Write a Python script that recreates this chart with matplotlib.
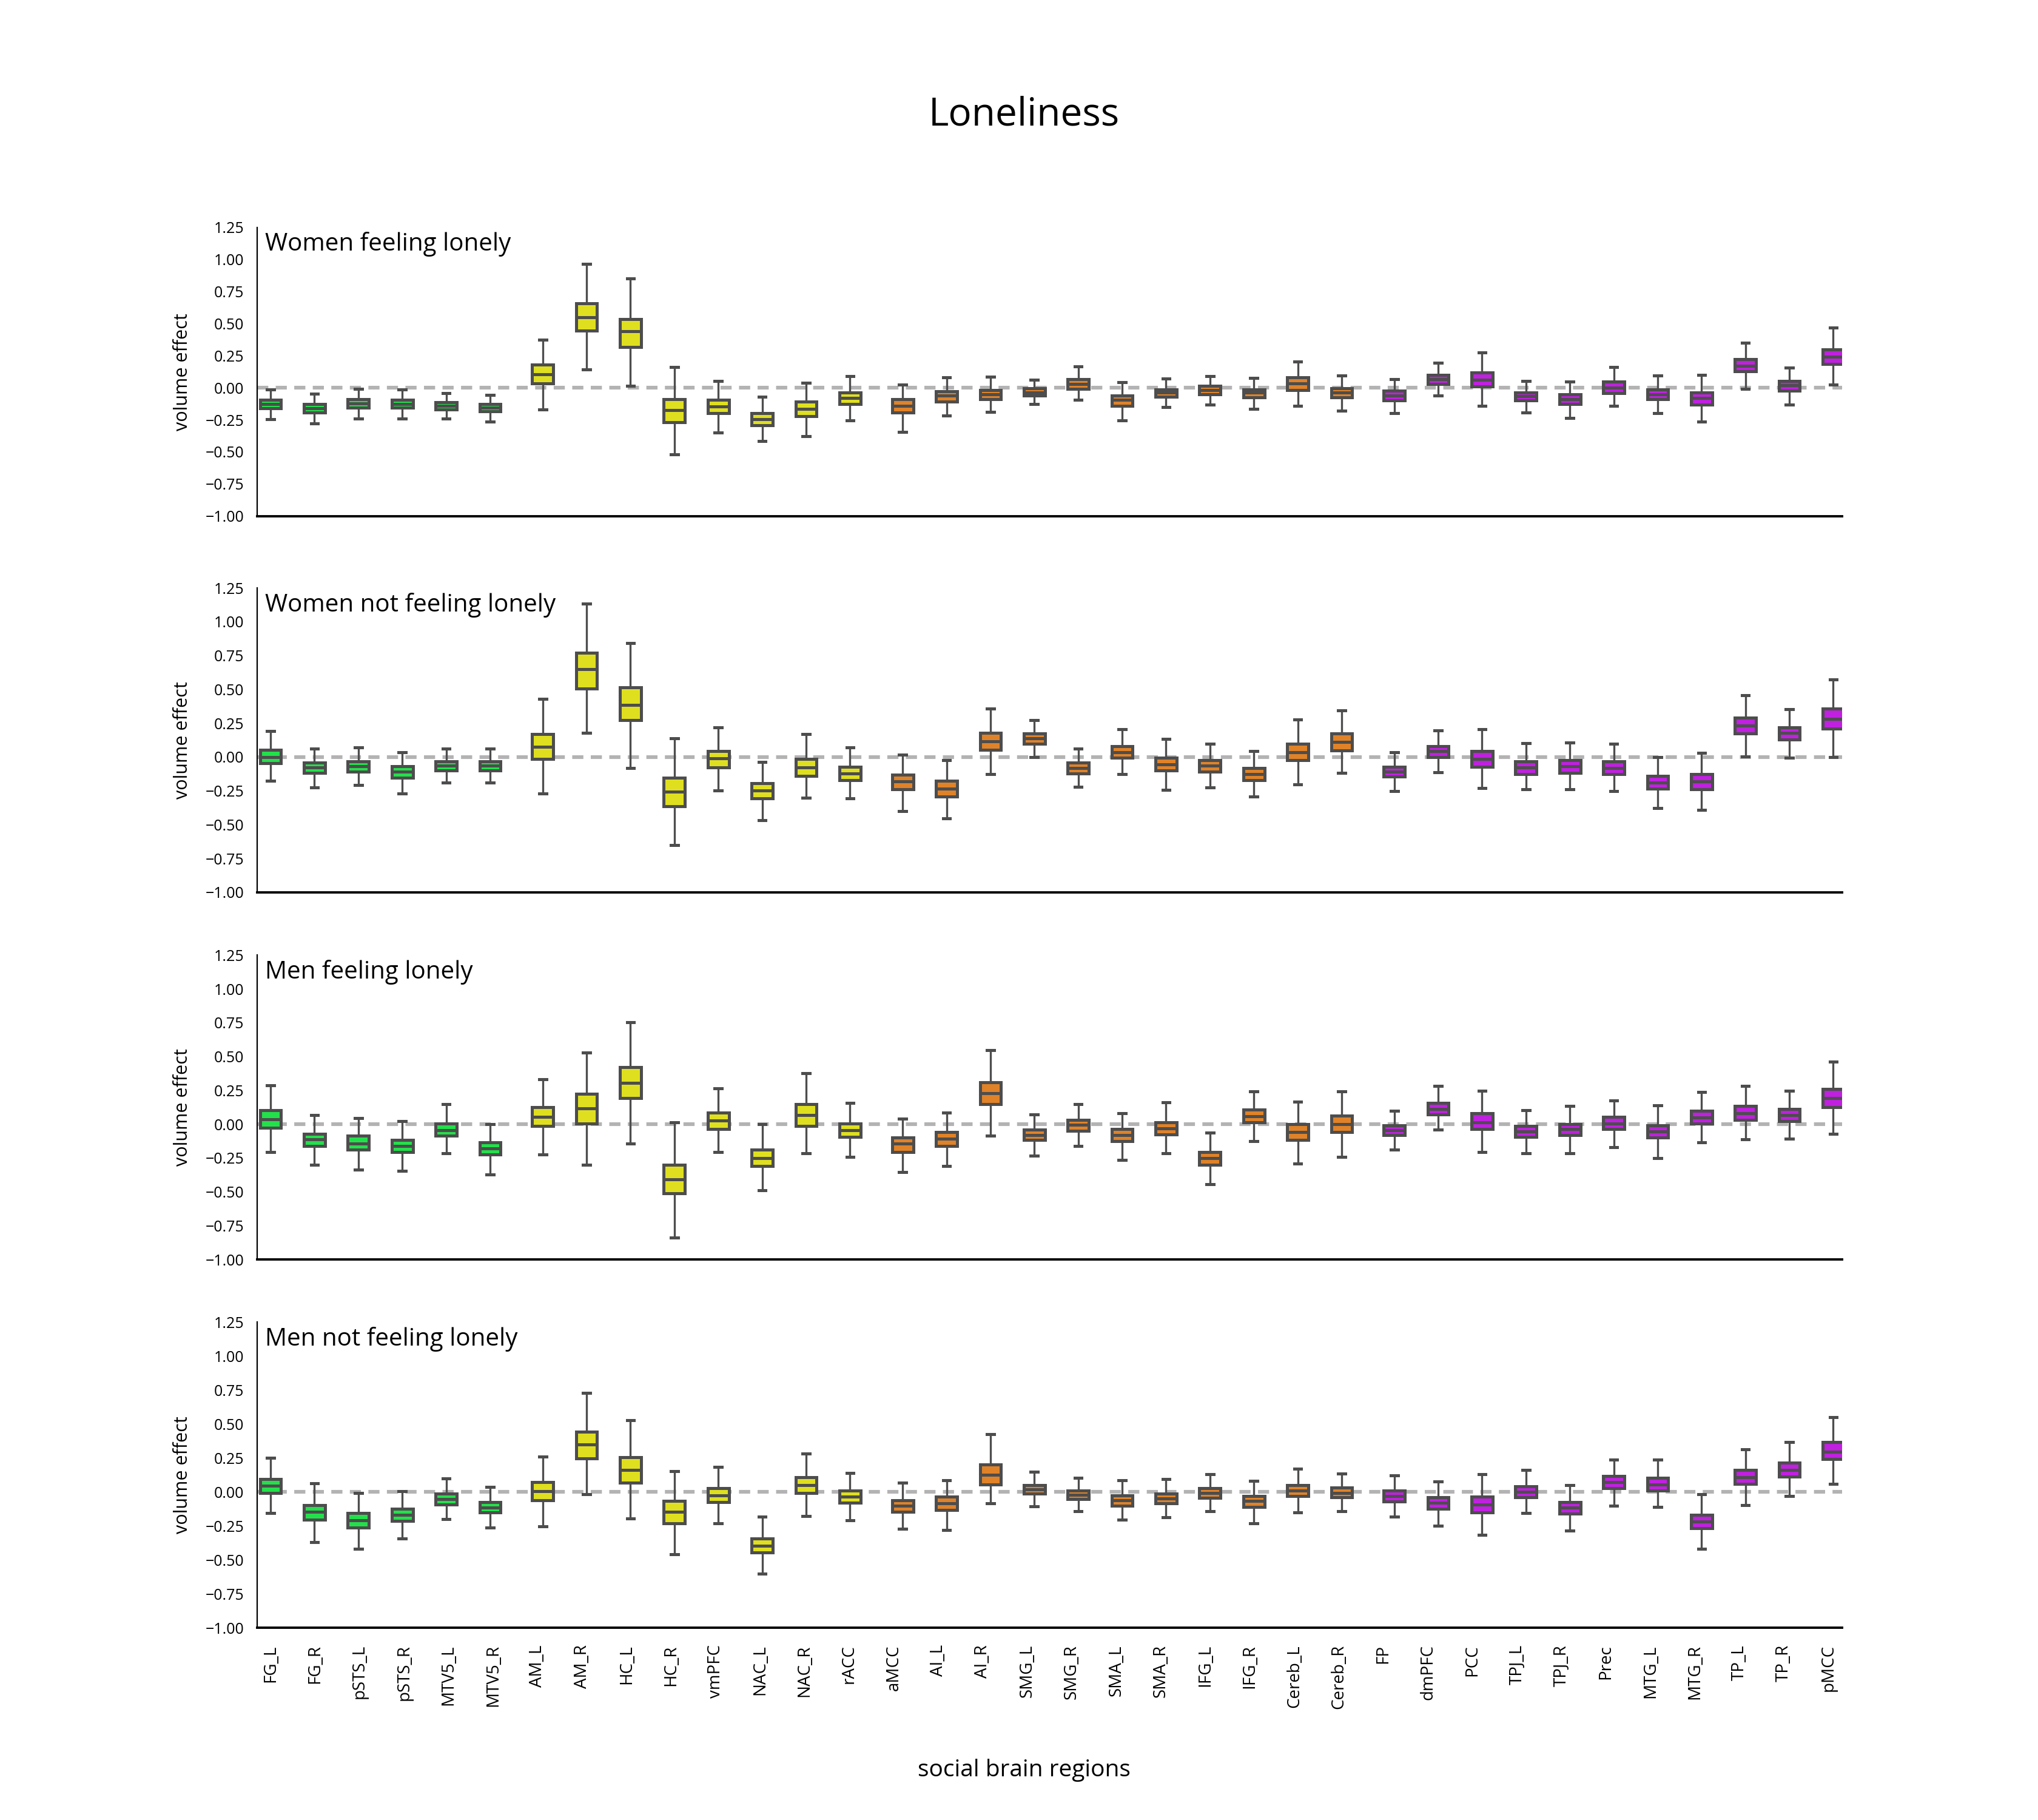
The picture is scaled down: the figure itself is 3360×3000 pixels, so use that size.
import matplotlib
matplotlib.use("Agg")
import matplotlib.pyplot as plt

plt.rcParams['font.family'] = ['Open Sans', 'DejaVu Sans']

regions = ["FG_L","FG_R","pSTS_L","pSTS_R","MTV5_L","MTV5_R","AM_L","AM_R","HC_L","HC_R",
           "vmPFC","NAC_L","NAC_R","rACC","aMCC","AI_L","AI_R","SMG_L","SMG_R","SMA_L","SMA_R",
           "IFG_L","IFG_R","Cereb_L","Cereb_R","FP","dmPFC","PCC","TPJ_L","TPJ_R","Prec",
           "MTG_L","MTG_R","TP_L","TP_R","pMCC"]
groups = [0]*6 + [1]*8 + [2]*11 + [3]*11
group_colors = ["#22e04a", "#dfdf1f", "#e08228", "#c020e0"]
group_offsets = [-0.3, -0.1, 0.1, 0.3]

panel_titles = ["Women feeling lonely", "Women not feeling lonely",
                "Men feeling lonely", "Men not feeling lonely"]

# each row: whislo, q1, median, q3, whishi
women_lonely = [
    [-0.244,-0.162,-0.128,-0.094,-0.013],[-0.28,-0.194,-0.159,-0.129,-0.046],
    [-0.24,-0.157,-0.123,-0.091,-0.008],[-0.24,-0.157,-0.126,-0.094,-0.013],
    [-0.24,-0.17,-0.139,-0.115,-0.041],[-0.263,-0.184,-0.154,-0.129,-0.055],
    [-0.168,0.035,0.106,0.178,0.375],[0.143,0.444,0.551,0.657,0.965],
    [0.016,0.317,0.438,0.537,0.852],[-0.518,-0.269,-0.173,-0.09,0.162],
    [-0.348,-0.2,-0.146,-0.094,0.054],[-0.414,-0.294,-0.244,-0.197,-0.069],
    [-0.376,-0.222,-0.164,-0.11,0.039],[-0.254,-0.128,-0.082,-0.039,0.091],
    [-0.343,-0.195,-0.139,-0.087,0.025],[-0.216,-0.11,-0.063,-0.03,0.079],
    [-0.187,-0.091,-0.049,-0.016,0.087],[-0.126,-0.063,-0.039,-0.006,0.063],
    [-0.093,-0.011,0.027,0.065,0.167],[-0.254,-0.142,-0.094,-0.063,0.044],
    [-0.15,-0.072,-0.039,-0.013,0.072],[-0.131,-0.052,-0.02,0.013,0.091],
    [-0.164,-0.077,-0.039,-0.013,0.077],[-0.14,-0.016,0.035,0.079,0.205],
    [-0.178,-0.076,-0.039,-0.003,0.096],[-0.197,-0.099,-0.06,-0.025,0.068],
    [-0.06,0.031,0.068,0.102,0.195],[-0.14,0.009,0.063,0.121,0.276],
    [-0.192,-0.099,-0.065,-0.035,0.054],[-0.235,-0.128,-0.088,-0.049,0.049],
    [-0.14,-0.043,0.0,0.046,0.162],[-0.197,-0.09,-0.05,-0.013,0.096],
    [-0.263,-0.132,-0.079,-0.035,0.101],[-0.008,0.128,0.173,0.224,0.351],
    [-0.131,-0.024,0.02,0.054,0.157],[0.025,0.186,0.243,0.299,0.469]]

women_not_lonely = [
    [-0.176,-0.045,0.0,0.055,0.191],[-0.226,-0.117,-0.078,-0.04,0.061],
    [-0.208,-0.106,-0.067,-0.03,0.07],[-0.27,-0.151,-0.108,-0.066,0.034],
    [-0.19,-0.097,-0.063,-0.03,0.061],[-0.19,-0.097,-0.063,-0.03,0.061],
    [-0.27,-0.012,0.075,0.17,0.429],[0.178,0.508,0.65,0.773,1.133],
    [-0.082,0.272,0.386,0.516,0.842],[-0.652,-0.362,-0.257,-0.155,0.138],
    [-0.248,-0.075,-0.01,0.045,0.218],[-0.468,-0.306,-0.248,-0.193,-0.037],
    [-0.302,-0.138,-0.078,-0.015,0.169],[-0.306,-0.169,-0.123,-0.072,0.07],
    [-0.399,-0.239,-0.181,-0.132,0.018],[-0.454,-0.29,-0.235,-0.176,-0.024],
    [-0.127,0.055,0.115,0.179,0.357],[0.0,0.1,0.138,0.173,0.272],
    [-0.221,-0.12,-0.082,-0.04,0.061],[-0.127,-0.007,0.034,0.079,0.205],
    [-0.244,-0.1,-0.055,-0.007,0.133],[-0.226,-0.106,-0.063,-0.024,0.097],
    [-0.293,-0.173,-0.127,-0.082,0.043],[-0.203,-0.024,0.037,0.097,0.277],
    [-0.118,0.051,0.111,0.173,0.344],[-0.253,-0.146,-0.108,-0.07,0.034],
    [-0.114,0.0,0.043,0.082,0.196],[-0.23,-0.07,-0.015,0.043,0.205],
    [-0.239,-0.124,-0.078,-0.033,0.102],[-0.239,-0.115,-0.069,-0.024,0.106],
    [-0.253,-0.124,-0.082,-0.033,0.097],[-0.378,-0.235,-0.19,-0.141,0.0],
    [-0.392,-0.239,-0.181,-0.127,0.03],[0.003,0.173,0.232,0.29,0.456],
    [-0.006,0.129,0.178,0.218,0.353],[0.0,0.209,0.281,0.357,0.573]]

men_lonely = [
    [-0.204,-0.028,0.034,0.102,0.286],[-0.302,-0.163,-0.114,-0.07,0.066],
    [-0.334,-0.186,-0.141,-0.087,0.043],[-0.343,-0.208,-0.159,-0.118,0.021],
    [-0.217,-0.087,-0.046,0.007,0.147],[-0.37,-0.226,-0.177,-0.132,-0.001],
    [-0.226,-0.015,0.052,0.124,0.331],[-0.298,0.007,0.115,0.223,0.528],
    [-0.141,0.192,0.304,0.421,0.753],[-0.837,-0.513,-0.406,-0.298,0.012],
    [-0.204,-0.037,0.025,0.084,0.263],[-0.487,-0.307,-0.249,-0.186,-0.001],
    [-0.213,-0.015,0.066,0.147,0.376],[-0.24,-0.096,-0.046,0.007,0.156],
    [-0.356,-0.204,-0.145,-0.1,0.039],[-0.311,-0.159,-0.109,-0.06,0.084],
    [-0.087,0.147,0.228,0.308,0.546],[-0.231,-0.118,-0.082,-0.042,0.07],
    [-0.163,-0.051,-0.006,0.03,0.147],[-0.262,-0.127,-0.082,-0.037,0.079],
    [-0.217,-0.078,-0.033,0.016,0.16],[-0.442,-0.302,-0.253,-0.208,-0.064],
    [-0.123,0.012,0.057,0.106,0.241],[-0.293,-0.118,-0.06,-0.001,0.165],
    [-0.24,-0.06,-0.001,0.061,0.241],[-0.19,-0.082,-0.046,-0.01,0.097],
    [-0.042,0.07,0.111,0.156,0.281],[-0.204,-0.037,0.016,0.079,0.246],
    [-0.217,-0.096,-0.055,-0.015,0.102],[-0.213,-0.082,-0.037,-0.001,0.133],
    [-0.168,-0.037,0.007,0.052,0.174],[-0.249,-0.1,-0.055,-0.01,0.138],
    [-0.136,0.007,0.048,0.097,0.237],[-0.114,0.03,0.079,0.133,0.281],
    [-0.109,0.021,0.066,0.111,0.246],[-0.073,0.124,0.192,0.259,0.461]]

men_not_lonely = [
    [-0.156,-0.007,0.045,0.096,0.253],[-0.367,-0.205,-0.147,-0.097,0.064],
    [-0.416,-0.263,-0.21,-0.156,-0.007],[-0.344,-0.214,-0.169,-0.124,0.006],
    [-0.2,-0.093,-0.052,-0.013,0.1],[-0.263,-0.151,-0.115,-0.075,0.037],
    [-0.254,-0.061,0.006,0.073,0.262],[-0.016,0.249,0.352,0.442,0.729],
    [-0.196,0.069,0.163,0.257,0.531],[-0.457,-0.228,-0.147,-0.066,0.154],
    [-0.232,-0.075,-0.025,0.028,0.186],[-0.6,-0.443,-0.394,-0.34,-0.183],
    [-0.178,-0.007,0.051,0.109,0.284],[-0.21,-0.079,-0.034,0.01,0.141],
    [-0.272,-0.147,-0.102,-0.061,0.069],[-0.281,-0.133,-0.084,-0.034,0.087],
    [-0.084,0.055,0.127,0.204,0.424],[-0.106,-0.012,0.019,0.051,0.15],
    [-0.142,-0.052,-0.021,0.01,0.105],[-0.205,-0.102,-0.061,-0.025,0.087],
    [-0.187,-0.084,-0.048,-0.012,0.096],[-0.142,-0.043,-0.007,0.028,0.132],
    [-0.232,-0.111,-0.066,-0.03,0.082],[-0.151,-0.03,0.01,0.051,0.172],
    [-0.142,-0.039,-0.007,0.033,0.136],[-0.183,-0.07,-0.03,0.01,0.123],
    [-0.246,-0.124,-0.079,-0.039,0.078],[-0.313,-0.151,-0.093,-0.034,0.132],
    [-0.156,-0.039,0.001,0.042,0.163],[-0.286,-0.16,-0.115,-0.075,0.051],
    [-0.102,0.028,0.073,0.118,0.24],[-0.111,0.01,0.055,0.105,0.24],
    [-0.416,-0.268,-0.219,-0.169,-0.016],[-0.097,0.06,0.109,0.163,0.316],
    [-0.03,0.114,0.163,0.217,0.37],[0.06,0.244,0.298,0.37,0.549]]

panels = [women_lonely, women_not_lonely, men_lonely, men_not_lonely]
yticks = [-1.0, -0.75, -0.5, -0.25, 0.0, 0.25, 0.5, 0.75, 1.0, 1.25]

W, H = 1560.0, 1393.0
fig = plt.figure(figsize=(16.8, 15.0), dpi=200)
panel_px = [(174, 395), (450, 683), (731, 964), (1012, 1246)]
x0, x1 = 197, 1410
line_c = "#4d4d4d"

for k, (data, (top, bot)) in enumerate(zip(panels, panel_px)):
    ax = fig.add_axes([x0 / W, 1 - bot / H, (x1 - x0) / W, (bot - top) / H])
    ax.axhline(0, color="#b3b3b3", lw=2.2, ls=(0, (3, 2)), zorder=1)
    for i, row in enumerate(data):
        g = groups[i]
        st = dict(whislo=row[0], q1=row[1], med=row[2], q3=row[3], whishi=row[4], fliers=[])
        ax.bxp([st], positions=[i + group_offsets[g]], widths=0.48, capwidths=0.16,
               showfliers=False, patch_artist=True,
               boxprops=dict(facecolor=group_colors[g], edgecolor=line_c, lw=1.8),
               medianprops=dict(color=line_c, lw=1.8),
               whiskerprops=dict(color=line_c, lw=1.2),
               capprops=dict(color=line_c, lw=1.8), manage_ticks=False, zorder=3)
    ax.set_xlim(-0.6, 35.5)
    ax.set_ylim(-1.0, 1.25)
    ax.set_yticks(yticks)
    ax.set_yticklabels([f"{v:.2f}".replace("-", "\u2212") for v in yticks], fontsize=9)
    ax.tick_params(axis="both", length=0, pad=8)
    for s in ["top", "right"]:
        ax.spines[s].set_visible(False)
    ax.spines["left"].set_linewidth(0.8)
    ax.spines["bottom"].set_linewidth(1.4)
    ax.set_ylabel("volume effect", fontsize=11, labelpad=8)
    ax.text(0.005, 0.985, panel_titles[k], transform=ax.transAxes, ha="left", va="top",
            fontsize=14.5)
    if k == 3:
        ax.set_xticks([i - 0.3 + 0.014 * i for i in range(len(regions))])
        ax.set_xticklabels(regions, rotation=90, fontsize=10, va="top")
        ax.tick_params(axis="x", pad=10)
    else:
        ax.set_xticks([])

fig.text(784 / W, 1 - 88 / H, "Loneliness", ha="center", va="center", fontsize=23)
fig.text(784 / W, 1 - 1355 / H, "social brain regions", ha="center", va="center", fontsize=14)
fig.savefig("out.png", dpi=200)
